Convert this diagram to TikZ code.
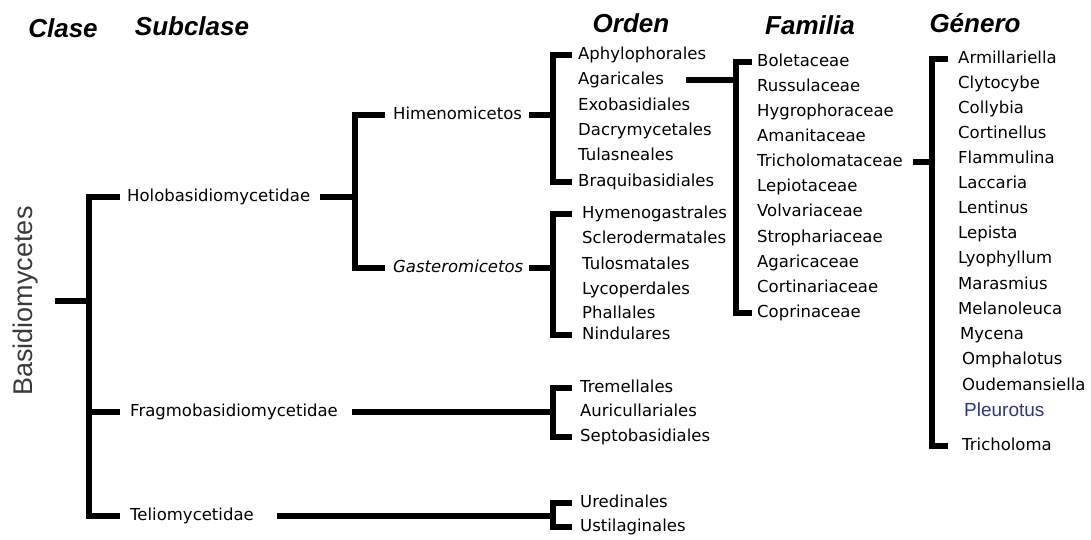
\documentclass[tikz,border=0pt]{standalone}
\usepackage{fontspec}
\setmainfont{DejaVu Sans}
\newfontfamily\headfont{Liberation Sans}
\usepackage{xcolor}
\definecolor{treeblack}{HTML}{000000}
\definecolor{basgray}{HTML}{3A3A3A}
\definecolor{pleublue}{HTML}{2C3682}
\tikzset{
  taxon/.style={anchor=west,inner sep=0pt,text height=12pt,text depth=3pt,font=\fontsize{16.5}{19}\selectfont},
  rank/.style={inner sep=0pt,font=\headfont\bfseries\itshape\fontsize{26}{28}\selectfont},
  br/.style={draw=treeblack,line width=6pt}
}
\begin{document}
\begin{tikzpicture}[x=1pt,y=-1pt]
\useasboundingbox (0,0) rectangle (1091,539);
\node[rank] (clase) at (63,28) {Clase};
\node[rank] (subclase) at (192,26) {Subclase};
\node[rank] (orden) at (631,23) {Orden};
\node[rank] (familia) at (810,25) {Familia};
\node[rank] (genero) at (975,23) {Género};
\node[rotate=90,anchor=south,inner sep=0pt,text=basgray,font=\headfont\fontsize{27}{29}\selectfont] (basid) at (38,301) {Basidiomycetes};
\node[taxon] (holo) at (127,197) {Holobasidiomycetidae};
\node[taxon] (fragmo) at (130,412) {Fragmobasidiomycetidae};
\node[taxon] (telio) at (130,516) {Teliomycetidae};
\node[taxon] (himeno) at (393,115) {Himenomicetos};
\node[taxon,font=\fontsize{16.5}{19}\selectfont\itshape] (gastero) at (393,268) {Gasteromicetos};
\node[taxon] (aphylo) at (578,55) {Aphylophorales};
\node[taxon] (agaric) at (578,80) {Agaricales};
\node[taxon] (exobas) at (578,106) {Exobasidiales};
\node[taxon] (dacry) at (578,131) {Dacrymycetales};
\node[taxon] (tulasn) at (578,156) {Tulasneales};
\node[taxon] (braqui) at (578,182) {Braquibasidiales};
\node[taxon] (hymeno) at (582,214) {Hymenogastrales};
\node[taxon] (sclero) at (582,239) {Sclerodermatales};
\node[taxon] (tulosm) at (582,265) {Tulosmatales};
\node[taxon] (lycop) at (582,290) {Lycoperdales};
\node[taxon] (phall) at (582,314) {Phallales};
\node[taxon] (nindul) at (582,335) {Nindulares};
\node[taxon] (tremel) at (580,388) {Tremellales};
\node[taxon] (auricu) at (580,412) {Auricullariales};
\node[taxon] (septob) at (580,437) {Septobasidiales};
\node[taxon] (uredin) at (580,503) {Uredinales};
\node[taxon] (ustila) at (580,527) {Ustilaginales};
\node[taxon] (bolet) at (757,62) {Boletaceae};
\node[taxon] (russul) at (757,87) {Russulaceae};
\node[taxon] (hygro) at (757,112) {Hygrophoraceae};
\node[taxon] (amanit) at (757,137) {Amanitaceae};
\node[taxon] (tricac) at (757,162) {Tricholomataceae};
\node[taxon] (lepiot) at (757,187) {Lepiotaceae};
\node[taxon] (volvar) at (757,212) {Volvariaceae};
\node[taxon] (stroph) at (757,238) {Strophariaceae};
\node[taxon] (agarac) at (757,263) {Agaricaceae};
\node[taxon] (cortin) at (757,288) {Cortinariaceae};
\node[taxon] (coprin) at (757,313) {Coprinaceae};
\node[taxon] (armill) at (958,59) {Armillariella};
\node[taxon] (clyto) at (958,84) {Clytocybe};
\node[taxon] (colly) at (958,109) {Collybia};
\node[taxon] (cortls) at (958,134) {Cortinellus};
\node[taxon] (flamm) at (958,159) {Flammulina};
\node[taxon] (lacca) at (958,184) {Laccaria};
\node[taxon] (lentin) at (958,209) {Lentinus};
\node[taxon] (lepist) at (958,234) {Lepista};
\node[taxon] (lyoph) at (958,259) {Lyophyllum};
\node[taxon] (marasm) at (958,285) {Marasmius};
\node[taxon] (melano) at (958,310) {Melanoleuca};
\node[taxon] (mycena) at (960,335) {Mycena};
\node[taxon] (omphal) at (962,360) {Omphalotus};
\node[taxon] (oudem) at (962,386) {Oudemansiella};
\node[taxon,text=pleublue,font=\headfont\fontsize{19}{21}\selectfont] (pleur) at (964,412) {Pleurotus};
\node[taxon] (tricho) at (962,446) {Tricholoma};
\draw[br,shorten <=17,shorten >=7] (basid.south) -| ([xshift=-38]holo.west) -- (holo.west);
\draw[br,shorten <=17,shorten >=10] (basid.south) -| ([xshift=-41]fragmo.west) -- (fragmo.west);
\draw[br,shorten <=17,shorten >=10] (basid.south) -| ([xshift=-41]telio.west) -- (telio.west);
\draw[br,shorten <=10,shorten >=8] (holo.east) -| ([xshift=-38]himeno.west) -- (himeno.west);
\draw[br,shorten <=10,shorten >=8] (holo.east) -| ([xshift=-38]gastero.west) -- (gastero.west);
\draw[br,shorten <=7,shorten >=6] (himeno.east) -| ([xshift=-25]aphylo.west) -- (aphylo.west);
\draw[br,shorten <=7,shorten >=6] (himeno.east) -| ([xshift=-25]braqui.west) -- (braqui.west);
\draw[br,shorten <=6,shorten >=10] (gastero.east) -| ([xshift=-29]hymeno.west) -- (hymeno.west);
\draw[br,shorten <=6,shorten >=10] (gastero.east) -| ([xshift=-29]nindul.west) -- (nindul.west);
\draw[br,shorten <=14,shorten >=8] (fragmo.east) -| ([xshift=-27]tremel.west) -- (tremel.west);
\draw[br,shorten <=14,shorten >=8] (fragmo.east) -| ([xshift=-27]septob.west) -- (septob.west);
\draw[br,shorten <=23,shorten >=8] (telio.east) -| ([xshift=-27]uredin.west) -- (uredin.west);
\draw[br,shorten <=23,shorten >=8] (telio.east) -| ([xshift=-27]ustila.west) -- (ustila.west);
\draw[br,shorten <=22,shorten >=5] (agaric.east) -| ([xshift=-21]bolet.west) -- (bolet.west);
\draw[br,shorten <=22,shorten >=5] (agaric.east) -| ([xshift=-21]coprin.west) -- (coprin.west);
\draw[br,shorten <=10,shorten >=10] (tricac.east) -| ([xshift=-26]armill.west) -- (armill.west);
\draw[br,shorten <=10,shorten >=14] (tricac.east) -| ([xshift=-30]tricho.west) -- (tricho.west);
\end{tikzpicture}
\end{document}
